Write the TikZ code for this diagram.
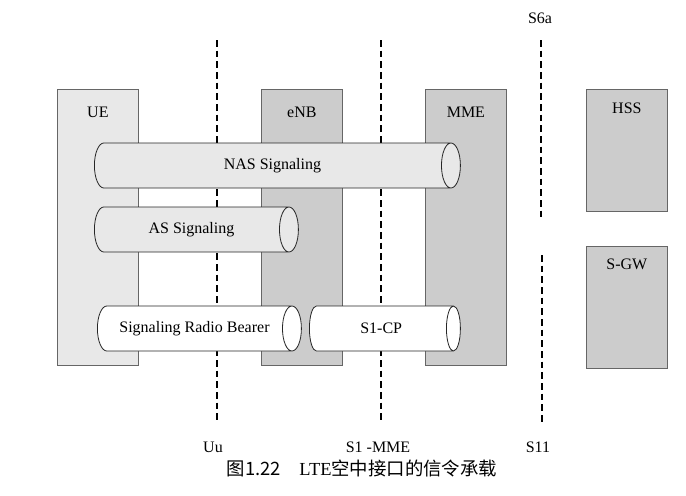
\documentclass[tikz,border=0pt]{standalone}
\usepackage{fontspec}
\setmainfont{Liberation Serif}
\newfontfamily\cjk{Noto Sans CJK SC}
\usetikzlibrary{calc,positioning,shapes.geometric}
\definecolor{lightbox}{gray}{0.91}
\definecolor{darkbox}{gray}{0.80}
\definecolor{edge}{gray}{0.40}
\tikzset{
	entity/.style={draw=edge, line width=0.6pt, fill=#1, inner sep=0pt, minimum width=60.75pt},
	tag/.style={font=\fontsize{12}{14}\selectfont, inner sep=1pt},
	pipe/.style={cylinder, shape border rotate=0, aspect=1.3, draw=black!85, line width=0.6pt,
		cylinder uses custom fill, cylinder body fill=#1, cylinder end fill=#1,
		minimum width=33.75pt, inner sep=0pt, anchor=west, font=\fontsize{12}{14}\selectfont},
	iface/.style={line width=1.4pt, dash pattern=on 5pt off 3pt},
}

\begin{document}
\begin{tikzpicture}[x=0.75pt, y=-0.75pt]
		%%%%% START %%%%%
		\useasboundingbox (0, 0) rectangle (686, 496);
		
		% network elements
		\node[entity=lightbox, minimum height=207pt, anchor=north west] (ue) at (57, 89) {};
		\node[entity=darkbox, minimum height=207pt, anchor=north west] (enb) at (261, 89) {};
		\node[entity=darkbox, minimum height=207pt, anchor=north west] (mme) at (425, 89) {};
		\node[entity=darkbox, minimum height=91.5pt, anchor=north west] (hss) at (586, 89) {};
		\node[entity=darkbox, minimum height=91.5pt, anchor=north west] (sgw) at (586, 246) {};
		
		\node[tag] (uetag) at ($(ue.north)+(0, 23)$) {UE};
		\node[tag] (enbtag) at ($(enb.north)+(0, 23)$) {eNB};
		\node[tag] (mmetag) at ($(mme.north)+(0, 23)$) {MME};
		\node[tag] (hsstag) at ($(hss.north)+(0, 19)$) {HSS};
		\node[tag] (sgwtag) at ($(sgw.north)+(0, 18)$) {S-GW};
		
		% interfaces
		\coordinate (uutop) at (217, 40);
		\coordinate (uubot) at (217, 423);
		\coordinate (s1top) at (381, 40);
		\coordinate (s1bot) at (381, 423);
		\coordinate (s6top) at (541, 40);
		\coordinate (s6bot) at (541, 217);
		\coordinate (s11top) at (542, 255);
		\coordinate (s11bot) at (542, 425);
		\draw[iface] (uutop) -- (uubot);
		\draw[iface] (s1top) -- (s1bot);
		\draw[iface] (s6top) -- (s6bot);
		\draw[iface] (s11top) -- (s11bot);
		
		\node[tag] (uutag) at (213, 447) {Uu};
		\node[tag] (s1tag) at (378, 447) {S1 -MME};
		\node[tag] (s11tag) at (538, 447) {S11};
		\node[tag] (s6tag) at (540, 18) {S6a};
		
		% signaling bearers
		\node[pipe=lightbox, minimum height=274.5pt] (nas) at (94, 165.5) {NAS Signaling};
		\node[pipe=lightbox, minimum height=153pt] (as) at (94, 229.5) {AS Signaling};
		\node[pipe=white, minimum height=153pt] (srb) at (97, 328.5) {Signaling Radio Bearer};
		\node[pipe=white, minimum height=113.25pt] (s1cp) at (309, 328.5) {S1-CP};
		
		\node[font=\cjk\fontsize{13.8}{16}\selectfont] (caption) at (362, 468) {图1.22\quad{\rmfamily LTE}空中接口的信令承载};
		
		%%%%% END %%%%%
	\end{tikzpicture}
\end{document}
